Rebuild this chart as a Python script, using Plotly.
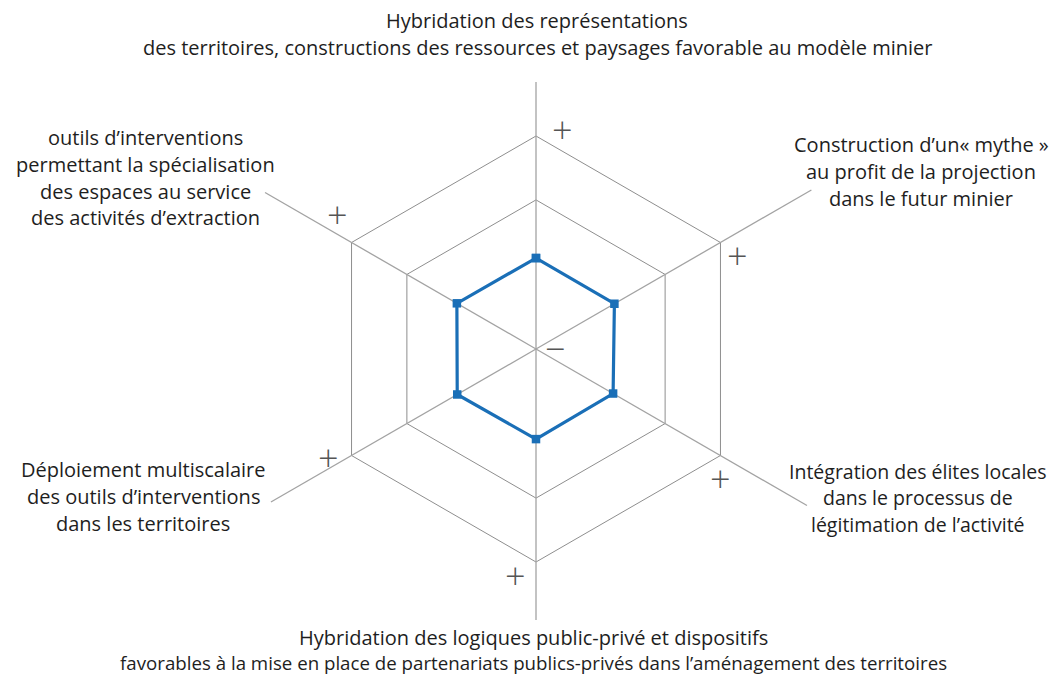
import plotly.graph_objects as go

# The page shows the figure with an 8 px body margin, so the figure is made
# slightly smaller than the window and positions are given in window pixels.
PAGE_OFFSET = 8
W, H = 1061 - 2 * PAGE_OFFSET, 682 - 2 * PAGE_OFFSET

# --- data -------------------------------------------------------------
categories = [
    "Hybridation des représentations",
    "Construction d'un mythe",
    "Intégration des élites locales",
    "Hybridation des logiques public-privé",
    "Déploiement multiscalaire",
    "Outils d'interventions",
]
values = [4.27, 4.25, 4.18, 4.23, 4.27, 4.29]
spoke_lengths = [12.54, 14.93, 14.69, 12.72, 14.37, 14.69]
ring_values = [7, 10]
r_max = 15.2

label_lines = [
    ["Hybridation des représentations",
     "des territoires, constructions des ressources et paysages favorable au modèle minier"],
    ["Construction d’un« mythe »", "au profit de la projection", "dans le futur minier"],
    ["Intégration des élites locales", "dans le processus de", "légitimation de l’activité"],
    ["Hybridation des logiques public-privé et dispositifs",
     "favorables à la mise en place de partenariats publics-privés dans l’aménagement des territoires"],
    ["Déploiement multiscalaire", "des outils d’interventions", "dans les territoires"],
    ["outils d’interventions", "permettant la spécialisation",
     "des espaces au service", "des activités d’extraction"],
]

# --- layout (window pixel placement) -----------------------------------
label_pos = [  # (center x px, first line y px, line spacing px)
    (537, 21, 27),
    (921, 145, 26.5),
    (918, 471, 26.5),
    (533, 637, 25),
    (143, 469, 27),
    (145, 138, 26.5),
]
label_sizes = [
    [20, 20],
    [20, 20, 20],
    [19.5, 19.5, 19.5],
    [20, 18.7],
    [20, 20, 20],
    [20, 20, 20, 20],
]
plus_pos = [(562, 130), (737, 255), (720, 478), (515, 575), (328, 457), (337, 215)]
minus_pos = (555, 348)

cx, cy = 536, 349
unit_px = 21.3
rad_px = r_max * unit_px

FONT = "Open Sans"
TEXT_COLOR = "#1e1e1e"
GRID_COLOR = "#8e8e8e"
SPOKE_COLOR = "#a3a3a3"
SIGN_COLOR = "#555555"
BLUE = "#1a6fb7"


def px(x, y):
    return (x - PAGE_OFFSET) / W, 1 - (y - PAGE_OFFSET) / H


fig = go.Figure()

# spokes
for cat, L in zip(categories, spoke_lengths):
    fig.add_trace(go.Scatterpolar(
        r=[0, L], theta=[cat, cat], mode="lines",
        line=dict(color=SPOKE_COLOR, width=1.3),
        hoverinfo="skip", showlegend=False,
    ))

# data polygon
fig.add_trace(go.Scatterpolar(
    r=values + values[:1], theta=categories + categories[:1],
    mode="lines+markers",
    line=dict(color=BLUE, width=3.2),
    marker=dict(symbol="square", size=8.5, color=BLUE),
    showlegend=False,
))

annotations = []
for lines, sizes, (x, y0, dy) in zip(label_lines, label_sizes, label_pos):
    for i, (t, s) in enumerate(zip(lines, sizes)):
        ax, ay = px(x, y0 + i * dy)
        annotations.append(dict(
            text=t, x=ax, y=ay, xref="paper", yref="paper",
            xanchor="center", yanchor="middle", showarrow=False,
            font=dict(family=FONT, size=s, color=TEXT_COLOR),
        ))
for (x, y) in plus_pos:
    ax, ay = px(x, y)
    annotations.append(dict(
        text="+", x=ax, y=ay, xref="paper", yref="paper",
        xanchor="center", yanchor="middle", showarrow=False,
        font=dict(family=FONT, size=36, color=SIGN_COLOR, weight=300),
    ))
ax, ay = px(*minus_pos)
annotations.append(dict(
    text="−", x=ax, y=ay, xref="paper", yref="paper",
    xanchor="center", yanchor="middle", showarrow=False,
    font=dict(family=FONT, size=36, color=SIGN_COLOR, weight=300),
))

x0, y0 = px(cx - rad_px, cy + rad_px)
x1, y1 = px(cx + rad_px, cy - rad_px)

fig.update_layout(
    width=W, height=H,
    margin=dict(l=0, r=0, t=0, b=0),
    paper_bgcolor="white", plot_bgcolor="white",
    showlegend=False,
    annotations=annotations,
    polar=dict(
        domain=dict(x=[x0, x1], y=[y0, y1]),
        bgcolor="rgba(0,0,0,0)",
        gridshape="linear",
        radialaxis=dict(
            range=[0, r_max], tickvals=ring_values, showticklabels=False,
            ticks="", showline=False, gridcolor=GRID_COLOR, gridwidth=1.2,
            layer="below traces",
        ),
        angularaxis=dict(
            type="category", categoryarray=categories, rotation=90,
            direction="clockwise", showgrid=False, showline=False,
            showticklabels=False, ticks="", layer="below traces",
        ),
    ),
)

fig.write_html("out.html")
